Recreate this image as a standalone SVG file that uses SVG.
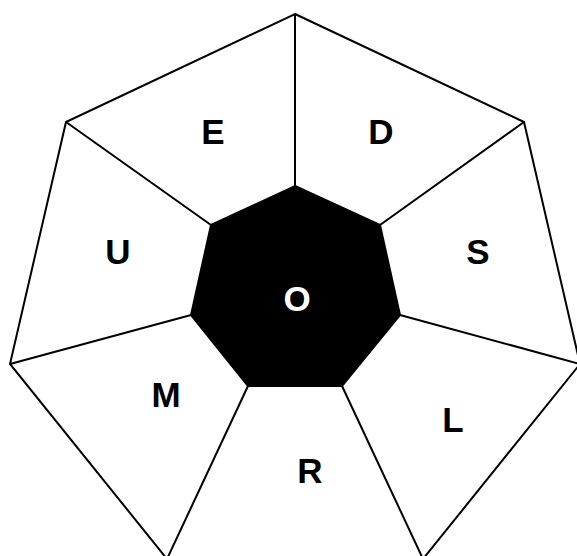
<svg xmlns="http://www.w3.org/2000/svg" width="577" height="556" viewBox="0 0 577 556">
<style>
.edge{stroke:#000;stroke-width:2;fill:none;stroke-linejoin:miter}
.seg{fill:#fff;stroke:#000;stroke-width:2}
.lbl{font-family:"Liberation Sans",Arial,sans-serif;font-weight:bold;font-size:35px;text-anchor:middle;fill:#000}
.lblw{font-family:"Liberation Sans",Arial,sans-serif;font-weight:bold;font-size:35px;text-anchor:middle;fill:#fff}
</style>
<rect width="577" height="556" fill="#fff"/>
<g id="outer">
<polygon class="seg" points="295,14 524,122 580,364 423,559 167,559 10,364 66,122"/>
</g>
<g id="connectors">
<line class="edge" x1="295" y1="186" x2="295" y2="14"/>
<line class="edge" x1="380" y1="225" x2="524" y2="122"/>
<line class="edge" x1="400" y1="315" x2="580" y2="364"/>
<line class="edge" x1="342" y1="386" x2="423" y2="559"/>
<line class="edge" x1="248" y1="386" x2="167" y2="559"/>
<line class="edge" x1="191" y1="315" x2="10" y2="364"/>
<line class="edge" x1="211" y1="225" x2="66" y2="122"/>
</g>
<g id="node-O">
<polygon points="295,186 380,225 400,315 342,386 248,386 191,315 211,225" fill="#000" stroke="#000" stroke-width="2"/>
<text class="lblw" x="297" y="311">O</text>
</g>
<g id="node-E"><text class="lbl" x="213" y="144">E</text></g>
<g id="node-D"><text class="lbl" x="381" y="144">D</text></g>
<g id="node-S"><text class="lbl" x="478" y="264">S</text></g>
<g id="node-L"><text class="lbl" x="453" y="432">L</text></g>
<g id="node-R"><text class="lbl" x="310" y="483">R</text></g>
<g id="node-M"><text class="lbl" x="166" y="407">M</text></g>
<g id="node-U"><text class="lbl" x="118" y="264">U</text></g>
</svg>
